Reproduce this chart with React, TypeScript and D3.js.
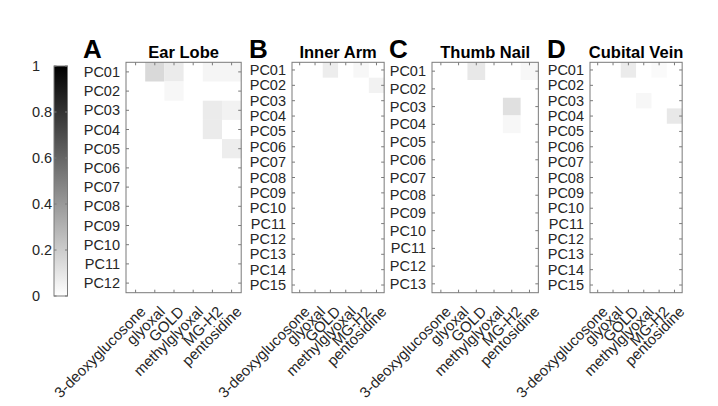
import React from "react";
import * as d3 from "d3";

const compounds = ["3-deoxyglucosone", "glyoxal", "GOLD", "methylglyoxal", "MG-H2", "pentosidine"];
const panelLetters = ["A", "B", "C", "D"];
const panelTitles = ["Ear Lobe", "Inner Arm", "Thumb Nail", "Cubital Vein"];
const colorbarTicks = [0, 0.2, 0.4, 0.6, 0.8, 1];

const earLobe = [
  [0, 0.15, 0.08, 0, 0.04, 0.04],
  [0, 0, 0.03, 0, 0, 0],
  [0, 0, 0, 0, 0.08, 0.05],
  [0, 0, 0, 0, 0.08, 0],
  [0, 0, 0, 0, 0, 0.07],
  [0, 0, 0, 0, 0, 0],
  [0, 0, 0, 0, 0, 0],
  [0, 0, 0, 0, 0, 0],
  [0, 0, 0, 0, 0, 0],
  [0, 0, 0, 0, 0, 0],
  [0, 0, 0, 0, 0, 0],
  [0, 0, 0, 0, 0, 0],
];
const innerArm = [
  [0, 0, 0.07, 0, 0.03, 0],
  [0, 0, 0, 0, 0, 0.05],
  [0, 0, 0, 0, 0, 0],
  [0, 0, 0, 0, 0, 0],
  [0, 0, 0, 0, 0, 0],
  [0, 0, 0, 0, 0, 0],
  [0, 0, 0, 0, 0, 0],
  [0, 0, 0, 0, 0, 0],
  [0, 0, 0, 0, 0, 0],
  [0, 0, 0, 0, 0, 0],
  [0, 0, 0, 0, 0, 0],
  [0, 0, 0, 0, 0, 0],
  [0, 0, 0, 0, 0, 0],
  [0, 0, 0, 0, 0, 0],
  [0, 0, 0, 0, 0, 0],
];
const thumbNail = [
  [0, 0, 0.09, 0, 0, 0.03],
  [0, 0, 0, 0, 0, 0],
  [0, 0, 0, 0, 0.12, 0],
  [0, 0, 0, 0, 0.03, 0],
  [0, 0, 0, 0, 0, 0],
  [0, 0, 0, 0, 0, 0],
  [0, 0, 0, 0, 0, 0],
  [0, 0, 0, 0, 0, 0],
  [0, 0, 0, 0, 0, 0],
  [0, 0, 0, 0, 0, 0],
  [0, 0, 0, 0, 0, 0],
  [0, 0, 0, 0, 0, 0],
  [0, 0, 0, 0, 0, 0],
];
const cubitalVein = [
  [0, 0, 0.08, 0, 0.02, 0],
  [0, 0, 0, 0, 0, 0],
  [0, 0, 0, 0.03, 0, 0],
  [0, 0, 0, 0, 0, 0.09],
  [0, 0, 0, 0, 0, 0],
  [0, 0, 0, 0, 0, 0],
  [0, 0, 0, 0, 0, 0],
  [0, 0, 0, 0, 0, 0],
  [0, 0, 0, 0, 0, 0],
  [0, 0, 0, 0, 0, 0],
  [0, 0, 0, 0, 0, 0],
  [0, 0, 0, 0, 0, 0],
  [0, 0, 0, 0, 0, 0],
  [0, 0, 0, 0, 0, 0],
  [0, 0, 0, 0, 0, 0],
];

const panelData = [earLobe, innerArm, thumbNail, cubitalVein];
const panelLefts = [126, 292, 432, 590];

const W = 718;
const H = 406;
const TOP = 62.3;
const PLOT_H = 230.4;
const FONT = "'Liberation Sans', Arial, Helvetica, sans-serif";
const AXIS = "#7a7a7a";
const Y_FS = 14.5;
const X_FS = 15;

const color = d3.scaleLinear<string>().domain([0, 1]).range(["#ffffff", "#000000"]).clamp(true);

function Panel({ idx }: { idx: number }) {
  const data = panelData[idx];
  const nRows = data.length;
  const cell = PLOT_H / nRows;
  const left = panelLefts[idx];
  const width = cell * compounds.length;
  const rows = data.map((_, i) => `PC${String(i + 1).padStart(2, "0")}`);
  const x = d3.scaleBand().domain(compounds).range([left, left + width]);
  const y = d3.scaleBand().domain(rows).range([TOP, TOP + PLOT_H]);
  const bottom = TOP + PLOT_H;
  const tl = 3;
  return (
    <g>
      {data.map((row, i) =>
        row.map((v, j) =>
          v > 0 ? (
            <rect
              key={`${i}-${j}`}
              x={x(compounds[j])}
              y={y(rows[i])}
              width={x.bandwidth()}
              height={y.bandwidth()}
              fill={color(v)}
            />
          ) : null
        )
      )}
      <rect x={left} y={TOP} width={width} height={PLOT_H} fill="none" stroke={AXIS} strokeWidth={1} />
      {rows.map((r) => {
        const cy = (y(r) as number) + y.bandwidth() / 2;
        return (
          <g key={r}>
            <line x1={left} x2={left + tl} y1={cy} y2={cy} stroke={AXIS} />
            <line x1={left + width} x2={left + width - tl} y1={cy} y2={cy} stroke={AXIS} />
            <text x={left - 6} y={cy} textAnchor="end" dominantBaseline="central" fontSize={Y_FS} fontFamily={FONT} fill="#262626">
              {r}
            </text>
          </g>
        );
      })}
      {compounds.map((c) => {
        const cx = (x(c) as number) + x.bandwidth() / 2;
        return (
          <g key={c}>
            <line x1={cx} x2={cx} y1={TOP} y2={TOP + tl} stroke={AXIS} />
            <line x1={cx} x2={cx} y1={bottom} y2={bottom - tl} stroke={AXIS} />
            <text
              transform={`translate(${cx + 11},${bottom + 20}) rotate(-45)`}
              textAnchor="end"
              fontSize={X_FS}
              fontFamily={FONT}
              fill="#262626"
            >
              {c}
            </text>
          </g>
        );
      })}
      <text x={left - 43} y={57.5} fontSize={26} fontWeight="bold" fontFamily={FONT} fill="#000">
        {panelLetters[idx]}
      </text>
      <text x={left + width / 2} y={57.5} textAnchor="middle" fontSize={16.5} fontWeight="bold" fontFamily={FONT} fill="#000">
        {panelTitles[idx]}
      </text>
    </g>
  );
}

function Colorbar() {
  const cy = d3.scaleLinear().domain([0, 1]).range([296, 66]);
  const x0 = 54;
  const x1 = 67.5;
  return (
    <g>
      <defs>
        <linearGradient id="cbGrad" x1="0" y1="1" x2="0" y2="0">
          <stop offset="0%" stopColor={color(0)} />
          <stop offset="100%" stopColor={color(1)} />
        </linearGradient>
      </defs>
      <rect x={x0} y={cy(1)} width={x1 - x0} height={cy(0) - cy(1)} fill="url(#cbGrad)" stroke={AXIS} strokeWidth={1} />
      {colorbarTicks.map((t) => (
        <g key={t}>
          <line x1={x0} x2={x0 + 2.5} y1={cy(t)} y2={cy(t)} stroke={AXIS} />
          <line x1={x1} x2={x1 - 2.5} y1={cy(t)} y2={cy(t)} stroke={AXIS} />
          <text x={32} y={cy(t)} dominantBaseline="central" fontSize={14.5} fontFamily={FONT} fill="#262626">
            {String(t)}
          </text>
        </g>
      ))}
    </g>
  );
}

export default function App() {
  return (
    <svg width={W} height={H} style={{ position: "absolute", left: 0, top: 0, background: "#fff" }}>
      <rect x={0} y={0} width={W} height={H} fill="#fff" />
      <Colorbar />
      {panelData.map((_, i) => (
        <Panel key={i} idx={i} />
      ))}
    </svg>
  );
}
